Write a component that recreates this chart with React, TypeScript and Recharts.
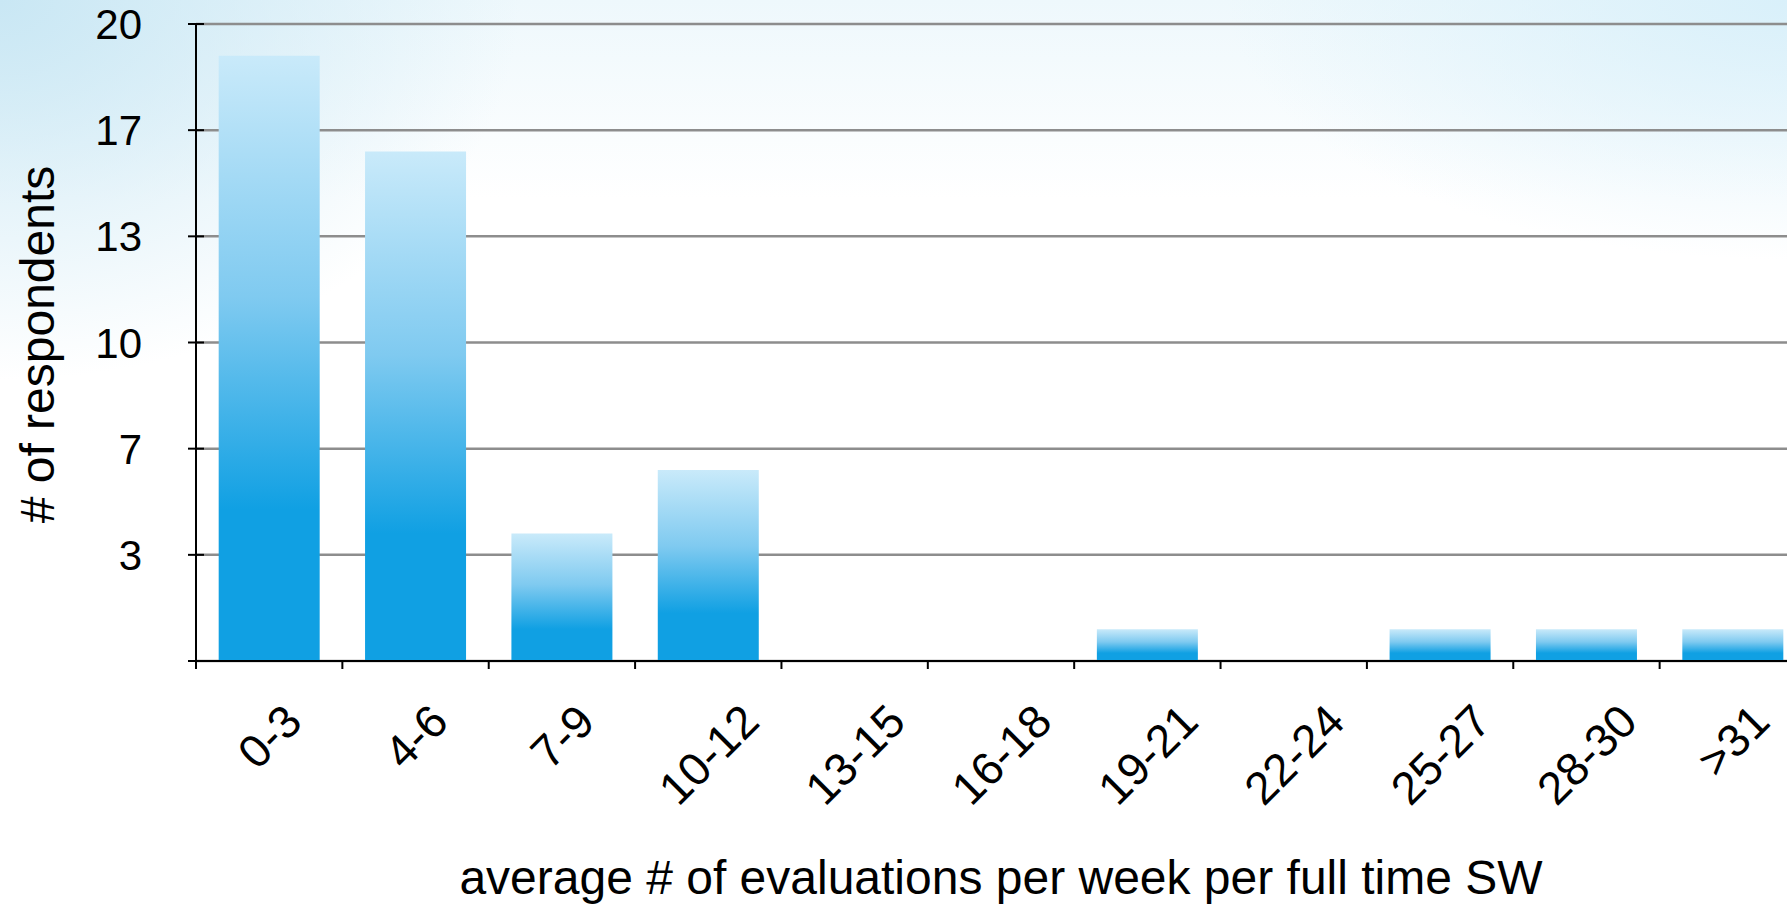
import React from "react";
import { BarChart, Bar, XAxis, YAxis, CartesianGrid } from "recharts";

// ─── Data ──────────────────────────────────────────────────────────────────
const CATEGORIES = [
  "0-3",
  "4-6",
  "7-9",
  "10-12",
  "13-15",
  "16-18",
  "19-21",
  "22-24",
  "25-27",
  "28-30",
  ">31",
];
const RESPONDENTS = [19, 16, 4, 6, 0, 0, 1, 0, 1, 1, 1];
// the source axis splits 0..20 into six equal steps and rounds the labels
const Y_TICKS = [0, 3.333, 6.667, 10, 13.333, 16.667, 20];

const X_TITLE = "average # of evaluations per week per full time SW";
const Y_TITLE = "# of respondents";

// ─── Layout ────────────────────────────────────────────────────────────────
const CHART_W = 1806;
const CHART_H = 904;
const Y_AXIS_W = 196;
const X_AXIS_H = 243;
const HALF_BAND = (CHART_W - Y_AXIS_W) / CATEGORIES.length / 2;

const FONT = '"Liberation Sans", Arial, Helvetica, sans-serif';
const GRID_COLOR = "#8d8d8d";
const X_TICK_FS = 46;

// rough Arial advance widths (em) — used to centre the rotated labels
const CHAR_W: Record<string, number> = { "-": 0.333, ">": 0.584 };
const textWidth = (s: string, fs: number) =>
  s.split("").reduce((acc, c) => acc + (CHAR_W[c] ?? 0.556), 0) * fs;

const data = CATEGORIES.map((name, i) => ({ name, value: RESPONDENTS[i] }));

function YTick(props: any) {
  const { x, y, payload } = props;
  const label = Math.round(payload.value);
  return (
    <g>
      <line x1={x - 8} x2={x + 8} y1={y} y2={y} stroke="#000" strokeWidth={2} />
      {label !== 0 && (
        <text
          x={x - 54}
          y={y}
          dy="0.36em"
          textAnchor="end"
          fontFamily={FONT}
          fontSize={42}
          fill="#000"
        >
          {label}
        </text>
      )}
    </g>
  );
}

function XTick(props: any) {
  const { x, y, payload, index } = props;
  // Keynote-style: rotated label's box is centred on the band, top ~42px below axis
  const w = textWidth(String(payload.value), X_TICK_FS);
  const h = 0.716 * X_TICK_FS;
  const ax = x + 0.354 * h;
  const ay = y + 40 + 0.707 * (w / 2 + h);
  return (
    <g>
      <line
        x1={x - HALF_BAND}
        x2={x - HALF_BAND}
        y1={y}
        y2={y + 8}
        stroke="#000"
        strokeWidth={2}
      />
      {index === CATEGORIES.length - 1 && (
        <line
          x1={x + HALF_BAND}
          x2={x + HALF_BAND}
          y1={y}
          y2={y + 8}
          stroke="#000"
          strokeWidth={2}
        />
      )}
      <text
        x={ax}
        y={ay}
        textAnchor="middle"
        transform={`rotate(-45 ${ax} ${ay})`}
        fontFamily={FONT}
        fontSize={X_TICK_FS}
        fill="#000"
      >
        {payload.value}
      </text>
    </g>
  );
}

function XTitle(props: any) {
  const vb = props.viewBox;
  return (
    <text
      x={vb.x + vb.width / 2}
      y={vb.y + 233}
      textAnchor="middle"
      fontFamily={FONT}
      fontSize={48}
      fill="#000"
    >
      {X_TITLE}
    </text>
  );
}

function YTitle(props: any) {
  const vb = props.viewBox;
  const tx = 54;
  const ty = vb.y + vb.height / 2 + 2;
  return (
    <text
      x={tx}
      y={ty}
      textAnchor="middle"
      transform={`rotate(-90 ${tx} ${ty})`}
      fontFamily={FONT}
      fontSize={48}
      fill="#000"
    >
      {Y_TITLE}
    </text>
  );
}

export default function App() {
  return (
    <div
      style={{
        position: "absolute",
        left: 0,
        top: 0,
        width: 1787,
        height: 904,
        overflow: "hidden",
        background:
          "radial-gradient(ellipse 520px 380px at 0% 0%, #c9e7f4 0%, rgba(255,255,255,0) 100%)," +
          "radial-gradient(ellipse 560px 260px at 100% 0%, #d9f0fa 0%, rgba(255,255,255,0) 100%)," +
          "linear-gradient(to bottom, #eef8fc 0%, #ffffff 22%)",
      }}
    >
      <BarChart
        width={CHART_W}
        height={CHART_H}
        data={data}
        margin={{ top: 24, right: 0, bottom: 0, left: 0 }}
        barCategoryGap="15.5%"
      >
        <defs>
          <linearGradient id="barGrad" x1="0" y1="0" x2="0" y2="1">
            <stop offset="0%" stopColor="#c9eafa" />
            <stop offset="40%" stopColor="#7fcaf0" />
            <stop offset="75%" stopColor="#10a0e3" />
            <stop offset="100%" stopColor="#10a0e3" />
          </linearGradient>
        </defs>
        <CartesianGrid
          vertical={false}
          stroke={GRID_COLOR}
          strokeWidth={2.5}
        />
        <XAxis
          dataKey="name"
          height={X_AXIS_H}
          interval={0}
          tickSize={0}
          tickMargin={0}
          tickLine={false}
          axisLine={{ stroke: "#000", strokeWidth: 2 }}
          tick={<XTick />}
          label={<XTitle />}
        />
        <YAxis
          width={Y_AXIS_W}
          domain={[0, 20]}
          ticks={Y_TICKS}
          interval={0}
          tickSize={0}
          tickMargin={0}
          tickLine={false}
          axisLine={{ stroke: "#000", strokeWidth: 2 }}
          tick={<YTick />}
          label={<YTitle />}
        />
        <Bar dataKey="value" fill="url(#barGrad)" isAnimationActive={false} />
      </BarChart>
    </div>
  );
}
